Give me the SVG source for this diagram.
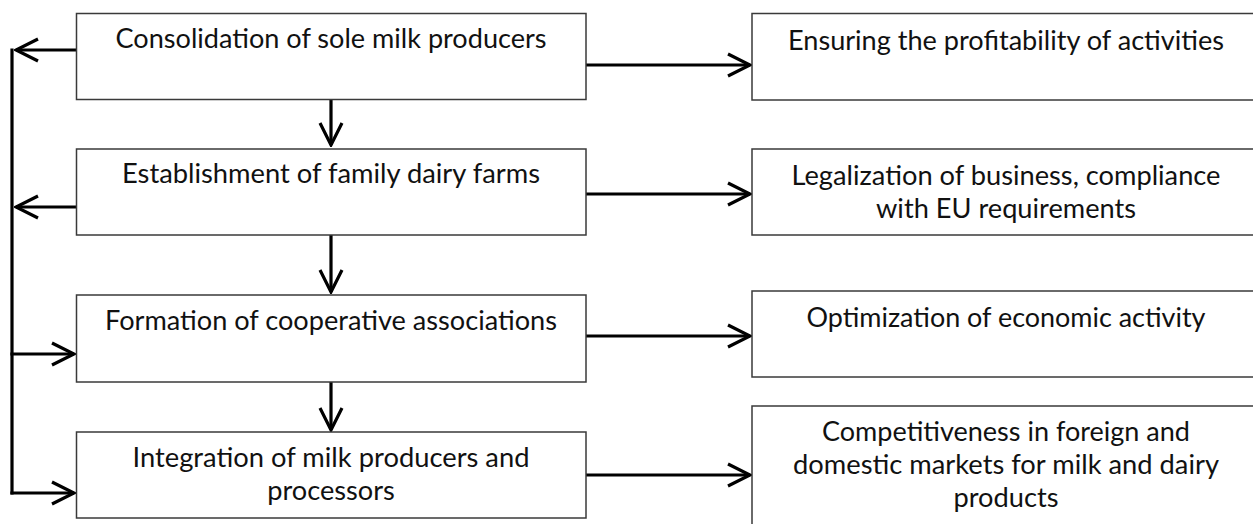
<svg xmlns="http://www.w3.org/2000/svg" width="1253" height="524" viewBox="0 0 1253 524">
<defs>
<style>
.box{fill:#fff;stroke:#3a3a3a;stroke-width:1.5}
.t{font-family:Lato,"Liberation Sans",sans-serif;font-size:27px;fill:#111;text-anchor:middle}
.c{stroke:#000;stroke-width:3.2;fill:none}
</style>
<marker id="ah" viewBox="-24 -13 26 26" refX="0" refY="0" markerWidth="26" markerHeight="26" markerUnits="userSpaceOnUse" orient="auto">
<path d="M-22,-11 L0,0 L-22,11" fill="none" stroke="#000" stroke-width="3.2" stroke-linejoin="miter"/>
</marker>
</defs>
<rect width="1253" height="524" fill="#fff"/>
<g id="connectors">
<line class="c" x1="76" y1="50" x2="16" y2="50" marker-end="url(#ah)"/>
<line class="c" x1="76" y1="207" x2="16" y2="207" marker-end="url(#ah)"/>
<line class="c" x1="12" y1="48.5" x2="12" y2="494.5"/>
<line class="c" x1="10.4" y1="354" x2="74" y2="354" marker-end="url(#ah)"/>
<line class="c" x1="10.4" y1="493" x2="74" y2="493" marker-end="url(#ah)"/>
<line class="c" x1="331" y1="99" x2="331" y2="145" marker-end="url(#ah)"/>
<line class="c" x1="331" y1="235" x2="331" y2="292" marker-end="url(#ah)"/>
<line class="c" x1="331" y1="377" x2="331" y2="430" marker-end="url(#ah)"/>
<line class="c" x1="586" y1="65" x2="750" y2="65" marker-end="url(#ah)"/>
<line class="c" x1="586" y1="194" x2="750" y2="194" marker-end="url(#ah)"/>
<line class="c" x1="586" y1="336" x2="750" y2="336" marker-end="url(#ah)"/>
<line class="c" x1="586" y1="475" x2="750" y2="475" marker-end="url(#ah)"/>
</g>
<g id="n1"><rect class="box" x="76.5" y="13.5" width="509.5" height="86"/><text class="t" x="331" y="48" textLength="431" lengthAdjust="spacingAndGlyphs">Consolidation of sole milk producers</text></g>
<g id="n2"><rect class="box" x="76.5" y="149" width="509.5" height="86"/><text class="t" x="331" y="183" textLength="418" lengthAdjust="spacingAndGlyphs">Establishment of family dairy farms</text></g>
<g id="n3"><rect class="box" x="76.5" y="295" width="509.5" height="87"/><text class="t" x="331" y="330" textLength="452" lengthAdjust="spacingAndGlyphs">Formation of cooperative associations</text></g>
<g id="n4"><rect class="box" x="76.5" y="432" width="509.5" height="86"/><text class="t" x="331" y="467" textLength="397" lengthAdjust="spacingAndGlyphs">Integration of milk producers and</text><text class="t" x="331" y="500" textLength="127.5" lengthAdjust="spacingAndGlyphs">processors</text></g>
<g id="r1"><rect class="box" x="752" y="13.5" width="508" height="86.5"/><text class="t" x="1006" y="50" textLength="436" lengthAdjust="spacingAndGlyphs">Ensuring the profitability of activities</text></g>
<g id="r2"><rect class="box" x="752" y="149" width="508" height="86"/><text class="t" x="1006" y="185" textLength="429" lengthAdjust="spacingAndGlyphs">Legalization of business, compliance</text><text class="t" x="1006" y="218" textLength="260" lengthAdjust="spacingAndGlyphs">with EU requirements</text></g>
<g id="r3"><rect class="box" x="752" y="291" width="508" height="86"/><text class="t" x="1006" y="327" textLength="399" lengthAdjust="spacingAndGlyphs">Optimization of economic activity</text></g>
<g id="r4"><rect class="box" x="752" y="406" width="508" height="130"/><text class="t" x="1006" y="441" textLength="368" lengthAdjust="spacingAndGlyphs">Competitiveness in foreign and</text><text class="t" x="1006" y="474" textLength="426" lengthAdjust="spacingAndGlyphs">domestic markets for milk and dairy</text><text class="t" x="1006" y="507" textLength="105" lengthAdjust="spacingAndGlyphs">products</text></g>
</svg>
